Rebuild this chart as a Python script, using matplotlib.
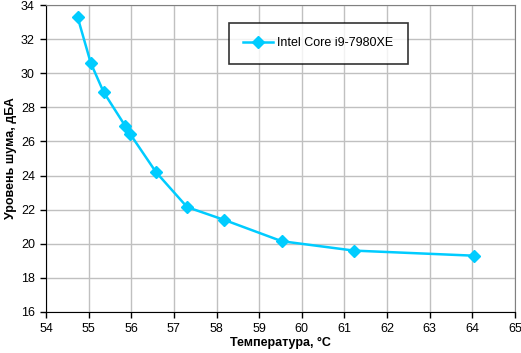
import matplotlib.pyplot as plt

plt.rcParams['font.family'] = ['Liberation Sans', 'DejaVu Sans']

# Data
temperature = [54.74, 55.05, 55.35, 55.86, 55.97, 56.58, 57.31, 58.18, 59.53, 61.22, 64.05]
noise = [33.3, 30.6, 28.9, 26.9, 26.45, 24.2, 22.15, 21.4, 20.15, 19.6, 19.3]
series_name = "Intel Core i9-7980XE"
x_ticks = list(range(54, 66))
y_ticks = list(range(16, 35, 2))

color = "#00CCFF"

fig = plt.figure(figsize=(5.21, 3.53), dpi=100)
ax = fig.add_axes([46 / 521, 1 - 312 / 353, (515 - 46) / 521, (312 - 5) / 353])

ax.plot(temperature, noise, color=color, lw=1.8, marker="D", ms=6.5,
        markeredgecolor=color, markerfacecolor=color, label=series_name)

ax.set_xlim(54, 65)
ax.set_ylim(16, 34)
ax.set_xticks(x_ticks)
ax.set_yticks(y_ticks)
ax.grid(True, color="#C0C0C0", lw=1)
ax.set_axisbelow(True)

for s in ["top", "right"]:
    ax.spines[s].set_color("#808080")
for s in ["left", "bottom"]:
    ax.spines[s].set_color("black")
ax.tick_params(direction="out", length=4, width=1, labelsize=9, pad=4)

ax.set_xlabel("Температура, °C", fontsize=9, fontweight="bold", labelpad=1)
ax.set_ylabel("Уровень шума, дБА", fontsize=9, fontweight="bold", labelpad=3)

leg = ax.legend(loc="upper left", bbox_to_anchor=((229 - 46) / 469, 1 - (23 - 5) / 307),
                fontsize=9, frameon=True, fancybox=False, borderpad=1.15,
                handlelength=2.4, handletextpad=0.3, borderaxespad=0)
leg.get_frame().set_edgecolor("black")
leg.get_frame().set_linewidth(1.2)

fig.savefig("out.png", dpi=100)
